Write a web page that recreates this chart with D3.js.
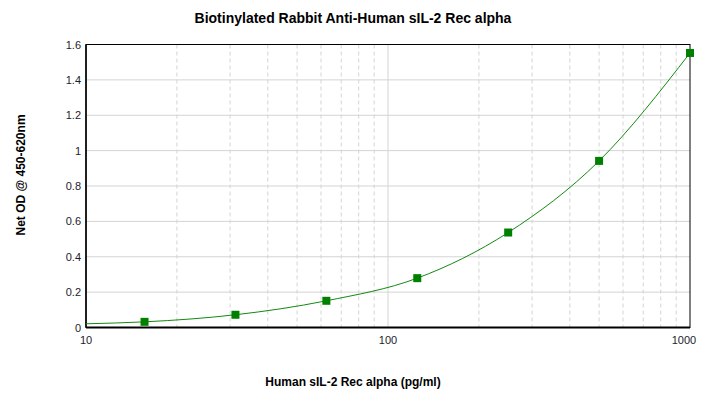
<!DOCTYPE html>
<html>
<head>
<meta charset="utf-8">
<script src="https://cdn.jsdelivr.net/npm/d3@7"></script>
<style>
  body { margin: 0; background: #fff; }
  text { font-family: "Liberation Sans", Arial, sans-serif; }
</style>
</head>
<body>
<div id="chart"></div>
<script>
// standard points
const conc = [15.625, 31.25, 62.5, 125, 250, 500, 1000];
const od = [0.032, 0.072, 0.151, 0.279, 0.537, 0.942, 1.552];
// fitted curve (starts at the left edge)
const curveX = [10, 15.625, 31.25, 62.5, 125, 250, 500, 1000];
const curveY = [0.021, 0.032, 0.072, 0.151, 0.279, 0.537, 0.942, 1.552];
const yTicks = [0, 0.2, 0.4, 0.6, 0.8, 1, 1.2, 1.4, 1.6];
const xTicks = [10, 100, 1000];

const w = 708;
const h = 407;
const pLeft = 86, pRight = 690, pTop = 44.5, pBottom = 327.5;

const svg = d3.select('#chart').append('svg').attr('width', w).attr('height', h)

const x = d3.scaleLog().domain([10, 1000]).range([pLeft, pRight])
const y = d3.scaleLinear().domain([0, 1.6]).range([pBottom, pTop])

// vertical grid: minor dashed, decades solid
const minor = []
for (let d = 10; d < 1000; d *= 10) {
    for (let k = 2; k <= 9; k++) minor.push(d * k)
}
svg.append('g')
    .selectAll('line')
    .data(minor)
    .enter()
    .append('line')
    .attr('x1', d => x(d)).attr('x2', d => x(d))
    .attr('y1', pTop).attr('y2', pBottom)
    .attr('stroke', '#d4d4d4')
    .attr('stroke-dasharray', '4,3')
svg.append('g')
    .selectAll('line')
    .data(xTicks.slice(1, -1))
    .enter()
    .append('line')
    .attr('x1', d => x(d)).attr('x2', d => x(d))
    .attr('y1', pTop).attr('y2', pBottom)
    .attr('stroke', '#d4d4d4')

// horizontal grid
svg.append('g')
    .selectAll('line')
    .data(yTicks.slice(1, -1))
    .enter()
    .append('line')
    .attr('x1', pLeft).attr('x2', pRight)
    .attr('y1', d => y(d)).attr('y2', d => y(d))
    .attr('stroke', '#d4d4d4')

// frame
svg.append('rect')
    .attr('x', pLeft).attr('y', pTop)
    .attr('width', pRight - pLeft).attr('height', pBottom - pTop)
    .attr('fill', 'none').attr('stroke', '#000').attr('stroke-width', 1)
svg.append('line')
    .attr('x1', pLeft).attr('x2', pRight).attr('y1', pBottom).attr('y2', pBottom)
    .attr('stroke', '#000').attr('stroke-width', 2)
svg.append('line')
    .attr('x1', pLeft).attr('x2', pLeft).attr('y1', pTop).attr('y2', pBottom)
    .attr('stroke', '#000').attr('stroke-width', 1.5)

// tick labels
svg.append('g')
    .selectAll('text')
    .data(yTicks)
    .enter()
    .append('text')
    .attr('x', 81)
    .attr('y', d => y(d) + 4)
    .attr('text-anchor', 'end')
    .attr('font-size', '11px')
    .attr('fill', '#1c1c2c')
    .text(d => d)
svg.append('g')
    .selectAll('text')
    .data(xTicks)
    .enter()
    .append('text')
    .attr('x', (d, i) => i === xTicks.length - 1 ? x(d) - 6 : x(d))
    .attr('y', 344)
    .attr('text-anchor', 'middle')
    .attr('font-size', '11px')
    .attr('fill', '#1c1c2c')
    .text(d => d)

// curve
const pts = curveX.map((v, i) => [v, curveY[i]])
svg.append('path')
    .datum(pts)
    .attr('d', d3.line().x(d => x(d[0])).y(d => y(d[1])).curve(d3.curveMonotoneX))
    .attr('fill', 'none')
    .attr('stroke', '#128a12')
    .attr('stroke-width', 1)

// markers
const size = 8
svg.append('g')
    .selectAll('rect')
    .data(conc)
    .enter()
    .append('rect')
    .attr('x', d => x(d) - size / 2)
    .attr('y', (d, i) => y(od[i]) - size / 2)
    .attr('width', size)
    .attr('height', size)
    .attr('fill', '#008000')

// titles
svg.append('text')
    .attr('x', 353).attr('y', 23)
    .attr('text-anchor', 'middle')
    .attr('font-size', '14px').attr('font-weight', 'bold')
    .text('Biotinylated Rabbit Anti-Human sIL-2 Rec alpha')
svg.append('text')
    .attr('x', 353).attr('y', 386)
    .attr('text-anchor', 'middle')
    .attr('font-size', '12px').attr('font-weight', 'bold')
    .text('Human sIL-2 Rec alpha (pg/ml)')
svg.append('text')
    .attr('transform', 'translate(25,175) rotate(-90)')
    .attr('text-anchor', 'middle')
    .attr('font-size', '12px').attr('font-weight', 'bold')
    .text('Net OD @ 450-620nm')
</script>
</body>
</html>
